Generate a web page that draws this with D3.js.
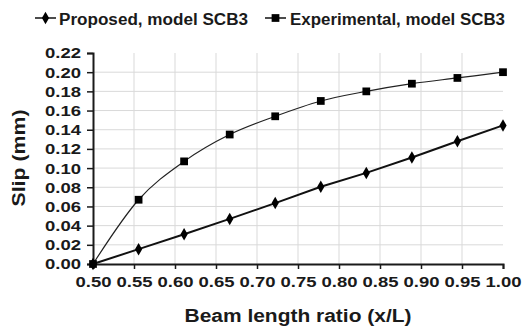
<!DOCTYPE html>
<html>
<head>
<meta charset="utf-8">
<script src="https://cdn.jsdelivr.net/npm/d3@7"></script>
<style>
  body { margin: 0; background: #fff; }
  text { font-family: "Liberation Sans", Arial, sans-serif; font-weight: bold; fill: #1a1a1a; }
</style>
</head>
<body>
<script>
// x positions along the beam (x/L)
const ratios = [0.5, 0.5556, 0.6111, 0.6667, 0.7222, 0.7778, 0.8333, 0.8889, 0.9444, 1.0];
const proposedSlip = [0, 0.0155, 0.031, 0.047, 0.0635, 0.0805, 0.095, 0.111, 0.128, 0.1445];
const experimentalSlip = [0, 0.067, 0.107, 0.135, 0.154, 0.170, 0.180, 0.188, 0.194, 0.200];
const xTicks = [0.5, 0.55, 0.6, 0.65, 0.7, 0.75, 0.8, 0.85, 0.9, 0.95, 1.0];
const yTicks = [0, 0.02, 0.04, 0.06, 0.08, 0.10, 0.12, 0.14, 0.16, 0.18, 0.20, 0.22];

const width = 523, height = 329;
const margin = {top: 53, right: 20, bottom: 65, left: 93};

const svg = d3.select("body").append("svg")
    .attr("width", width)
    .attr("height", height);

const x = d3.scaleLinear().domain([0.5, 1.0]).range([margin.left, 503]);
const y = d3.scaleLinear().domain([0, 0.22]).range([264, margin.top]);

// grid
svg.append("g")
    .selectAll("line")
    .data(xTicks.slice(1, -1))
    .join("line")
    .attr("x1", d => x(d)).attr("x2", d => x(d))
    .attr("y1", y(0.22)).attr("y2", y(0))
    .attr("stroke", "#d9d9d9").attr("stroke-width", 1);

svg.append("g")
    .selectAll("line")
    .data(yTicks.slice(1, -1))
    .join("line")
    .attr("x1", x(0.5)).attr("x2", x(1.0))
    .attr("y1", d => y(d)).attr("y2", d => y(d))
    .attr("stroke", "#d9d9d9").attr("stroke-width", 1);

// axes
const xAxis = svg.append("g")
    .attr("transform", `translate(0,${y(0)})`)
    .call(d3.axisBottom(x).tickValues(xTicks).tickFormat(d3.format(".2f")).tickSize(5).tickPadding(7));

const yAxis = svg.append("g")
    .attr("transform", `translate(${x(0.5)},0)`)
    .call(d3.axisLeft(y).tickValues(yTicks).tickFormat(d3.format(".2f")).tickSize(6).tickPadding(6));

[xAxis, yAxis].forEach(a => {
    a.select(".domain").attr("stroke", "#1a1a1a").attr("stroke-width", 2);
    a.selectAll(".tick line").attr("stroke", "#1a1a1a").attr("stroke-width", 1.5);
    a.selectAll("text")
        .style("font-size", "15.5px")
        .attr("textLength", 36)
        .attr("lengthAdjust", "spacingAndGlyphs")
        .attr("fill", "#1a1a1a");
});

// experimental, smoothed
const expData = ratios.map((r, i) => [r, experimentalSlip[i]]);
const propData = ratios.map((r, i) => [r, proposedSlip[i]]);

svg.append("path")
    .datum(expData)
    .attr("fill", "none")
    .attr("stroke", "#222")
    .attr("stroke-width", 1.2)
    .attr("d", d3.line().x(d => x(d[0])).y(d => y(d[1])).curve(d3.curveMonotoneX));

svg.append("path")
    .datum(propData)
    .attr("fill", "none")
    .attr("stroke", "#111")
    .attr("stroke-width", 2)
    .attr("d", d3.line().x(d => x(d[0])).y(d => y(d[1])));

const square = d3.symbol().type(d3.symbolSquare).size(60);
const diamond = d3.symbol().type(d3.symbolDiamond).size(45);

svg.append("g")
    .selectAll("path")
    .data(expData)
    .join("path")
    .attr("transform", d => `translate(${x(d[0])},${y(d[1])})`)
    .attr("d", square)
    .attr("fill", "#000");

svg.append("g")
    .selectAll("path")
    .data(propData)
    .join("path")
    .attr("transform", d => `translate(${x(d[0])},${y(d[1])})`)
    .attr("d", diamond)
    .attr("fill", "#000");

// axis titles
svg.append("text")
    .attr("x", 298).attr("y", 322)
    .attr("text-anchor", "middle")
    .style("font-size", "18px")
    .attr("textLength", 227)
    .attr("lengthAdjust", "spacingAndGlyphs")
    .text("Beam length ratio (x/L)");

svg.append("text")
    .attr("transform", "translate(25,158) rotate(-90)")
    .attr("text-anchor", "middle")
    .style("font-size", "18px")
    .attr("textLength", 97)
    .attr("lengthAdjust", "spacingAndGlyphs")
    .text("Slip (mm)");

// legend
const legend = [
    {label: "Proposed, model SCB3", sym: diamond, x0: 35, tx: 59, w: 189},
    {label: "Experimental, model SCB3", sym: square, x0: 265, tx: 290, w: 215}
];
const lg = svg.append("g").selectAll("g").data(legend).join("g");
lg.append("line")
    .attr("x1", d => d.x0).attr("x2", d => d.x0 + 21)
    .attr("y1", 18).attr("y2", 18)
    .attr("stroke", "#111").attr("stroke-width", 1.5);
lg.append("path")
    .attr("transform", d => `translate(${d.x0 + 10.5},18)`)
    .attr("d", d => d.sym())
    .attr("fill", "#000");
lg.append("text")
    .attr("x", d => d.tx).attr("y", 24.5)
    .style("font-size", "16px")
    .attr("textLength", d => d.w)
    .attr("lengthAdjust", "spacingAndGlyphs")
    .text(d => d.label);
</script>
</body>
</html>
